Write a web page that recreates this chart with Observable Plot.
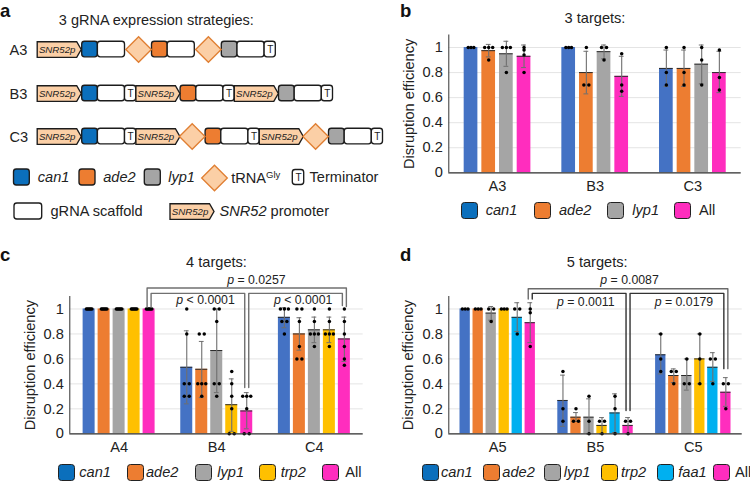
<!DOCTYPE html>
<html><head><meta charset="utf-8">
<script src="https://cdn.jsdelivr.net/npm/d3@7"></script>
<script src="https://cdn.jsdelivr.net/npm/@observablehq/plot@0.6"></script>
<style>
html,body{margin:0;padding:0;background:#fff;overflow:hidden}
body{width:750px;height:481px;position:relative;font-family:"Liberation Sans",Arial,sans-serif;color:#222}
.abs{position:absolute}
.letter{position:absolute;font-weight:bold;font-size:18.5px;line-height:21px;color:#111}
.sw{position:absolute;box-sizing:border-box;border:1.4px solid #222;border-radius:3.5px;width:17px;height:17px}
.lb{position:absolute;font-size:14.6px;line-height:17px;white-space:nowrap}
</style></head><body>
<script>
const FONT='"Liberation Sans",Arial,sans-serif';
const TICK=14.6;
const colBlueBar="#4472C4",colOrange="#ED7D31",colGray="#A5A5A5",colYellow="#FFC000",colCyan="#00B0F0",colPink="#FF2DBE",colBlueKey="#0B6FBC";
const fillOf={can1:colBlueBar,ade2:colOrange,lyp1:colGray,trp2:colYellow,faa1:colCyan,All:colPink};
const keyOf={can1:colBlueKey,ade2:colOrange,lyp1:colGray,trp2:colYellow,faa1:colCyan,All:colPink};

// ---------- panel b data
const bGroups=["A3","B3","C3"];
const bSeries=["can1","ade2","lyp1","All"];
const bMeans=[[1,0.975,0.95,0.93],[1,0.8,0.967,0.77],[0.833,0.833,0.867,0.8]];
const bHigh=[[null,1.025,1.05,1.02],[null,0.97,1.02,0.93],[0.98,0.98,1.02,0.97]];
const bLow=[[null,0.925,0.85,0.84],[null,0.63,0.91,0.61],[0.69,0.69,0.71,0.64]];
const bDots=[
 [[1,1,1],[1,1,1,0.9],[1,1,1,0.8],[1,0.98,0.94,0.8]],
 [[1,1,1],[1,0.7,0.7],[1,1,0.9],[0.95,0.7,0.65]],
 [[1,0.8,0.7],[1,0.8,0.7],[1,0.9,0.7],[0.98,0.76,0.66]]];

// ---------- panel c data
const cGroups=["A4","B4","C4"];
const cSeries=["can1","ade2","lyp1","trp2","All"];
const cMeans=[[1,1,1,1,1],[0.533,0.517,0.667,0.233,0.183],[0.933,0.8,0.833,0.833,0.76]];
const cHigh=[[null,null,null,null,null],[0.825,0.74,1,0.44,0.33],[1.01,0.93,0.935,0.935,0.935]];
const cLow=[[null,null,null,null,null],[0.24,0.29,0.33,0.02,0.04],[0.85,0.67,0.73,0.73,0.58]];
const cDots=[
 [[1,1,1,1,1,1],[1,1,1,1,1,1],[1,1,1,1,1,1],[1,1,1,1,1,1],[1,1,1,1,1,1]],
 [[1,0.8,0.4,0.4,0.3,0.3],[0.8,0.8,0.4,0.4,0.4,0.3],[1,1,0.9,0.4,0.4,0.3],[0.5,0.4,0.3,0.2,0,0],[0.3,0.3,0.3,0.2,0,0]],
 [[1,1,1,0.9,0.9,0.8],[1,1,0.9,0.7,0.6,0.6],[1,0.9,0.8,0.8,0.8,0.7],[1,0.9,0.8,0.8,0.8,0.7],[1,0.9,0.8,0.7,0.6,0.55]]];
const cBrackets=[
 {from:[0,1.013],to:[2,1.02],top:1.168,side:[-1,1],c:"#707070"},
 {from:[0,1.013],to:[1,0.37],top:1.125,side:[1,-1],c:"#707070"},
 {from:[1,0.37],to:[2,1.027],top:1.125,side:[1,-1],c:"#707070"}];
const cP=[["p = 0.0257",1.406,1.234],["p < 0.0001",0.885,1.072],["p < 0.0001",1.885,1.072]];

// ---------- panel d data
const dGroups=["A5","B5","C5"];
const dSeries=["can1","ade2","lyp1","trp2","faa1","All"];
const dMeans=[[1,1,0.967,1,0.933,0.89],[0.267,0.133,0.133,0.067,0.167,0.067],[0.633,0.467,0.467,0.6,0.533,0.333]];
const dHigh=[[null,null,1.02,null,1.05,1.05],[0.47,0.17,0.28,0.13,0.32,0.13],[0.8,0.52,0.6,0.8,0.65,0.45]];
const dLow=[[null,null,0.91,null,0.82,0.73],[0.06,0.1,0,0,0.01,0],[0.48,0.41,0.35,0.4,0.42,0.22]];
const dDots=[
 [[1,1,1],[1,1,1],[1,1,0.9],[1,1,1],[1,1,0.8],[1,0.97,0.7]],
 [[0.5,0.2,0.1],[0.2,0.1,0.1],[0.3,0.1,0],[0.1,0.1,0],[0.3,0.2,0],[0.1,0.1,0]],
 [[0.8,0.6,0.5],[0.5,0.5,0.4],[0.6,0.4,0.4],[0.8,0.6,0.4],[0.6,0.6,0.4],[0.4,0.4,0.2]]];
const dBrackets=[
 {from:[0,1.08],to:[2,0.522],top:1.162,side:[-1,1],c:"#6a6a6a"},
 {from:[0,1.08],to:[1,0.186],top:1.125,side:[1,-1],c:"#333"},
 {from:[1,0.186],to:[2,0.522],top:1.125,side:[1,-1],c:"#333"}];
const dP=[["p = 0.0087",1.348,1.234],["p = 0.0011",0.9,1.056],["p = 0.0179",1.904,1.056]];

const yTicks=[0,0.2,0.4,0.6,0.8,1];
const GSTEP=97.67;

function italicize(svg){
  d3.select(svg).selectAll("text").each(function(){
    const t=this.textContent, el=d3.select(this);
    let m;
    if((m=t.match(/^p ([<=] .*)$/))){
      el.text(null);el.append("tspan").attr("font-style","italic").text("p");el.append("tspan").text(" "+m[1]);
    } else if(t==="tRNAGly"){
      el.text(null);el.append("tspan").text("tRNA");el.append("tspan").attr("dy",-5).attr("font-size",9.5).text("Gly");
    } else if(t==="SNR52 promoter"){
      el.text(null);el.append("tspan").attr("font-style","italic").text("SNR52");el.append("tspan").text(" promoter");
    }
  });
}

function barPanel({groups,series,means,high,low,dots,left,top,width,height,mL,mR,mT,mB,xDom,barW,barStep,title,titleDy,titleDx=0,brackets=[],pvals=[],labelOffset}){
  const rows=[],pts=[];
  groups.forEach((g,gi)=>series.forEach((s,si)=>{
    const cx=gi+(si-(series.length-1)/2)*barStep/GSTEP, hw=barW/2/GSTEP;
    rows.push({s,cx,x1:cx-hw,x2:cx+hw,capL:cx-2.4/GSTEP,capR:cx+2.4/GSTEP,mean:means[gi][si],hi:high[gi][si],lo:low[gi][si]});
    const vals=dots[gi][si], uniform=vals.every(v=>v===vals[0]);
    d3.rollups(vals,v=>v.length,v=>v).forEach(([v,n])=>{
      const sp=uniform?5.6/(n-1):(n===2?5:n===3?4:3);
      for(let k=0;k<n;k++) pts.push({x:cx+(k-(n-1)/2)*sp/GSTEP,y:v});
    });
  }));
  const errs=rows.filter(r=>r.hi!=null);
  const lastX=series.length-1;
  const bx=g=>g+(lastX/2)*barStep/GSTEP;
  const off=2/GSTEP;
  const bLines=brackets.flatMap((b,k)=>{
    const xa=bx(b.from[0])+b.side[0]*off, xb=bx(b.to[0])+b.side[1]*off;
    return [
      {k,c:b.c,x:xa,y:b.from[1]},{k,c:b.c,x:xa,y:b.top},{k,c:b.c,x:xb,y:b.top},{k,c:b.c,x:xb,y:b.to[1]}
    ];
  });
  const plot=Plot.plot({
    width,height,marginLeft:mL,marginRight:mR,marginTop:mT,marginBottom:mB,
    style:{fontFamily:FONT,fontSize:TICK+"px",color:"#222",background:"transparent",overflow:"visible"},
    x:{domain:xDom,axis:null},
    y:{domain:[0,1.1],axis:null},
    marks:[
      Plot.gridY({ticks:yTicks,stroke:"#e4e4e4",strokeOpacity:1,strokeWidth:1}),
      Plot.rectY(rows,{x1:"x1",x2:"x2",y1:0,y2:"mean",fill:d=>fillOf[d.s],insetLeft:0,insetRight:0}),
      Plot.ruleY(rows.filter(r=>r.mean<1),{y:"mean",x1:"x1",x2:"x2",stroke:"#2a2a2a",strokeWidth:1}),
      Plot.ruleX(errs,{x:"cx",y1:"lo",y2:"hi",stroke:"#6f6f6f",strokeWidth:1.1}),
      Plot.ruleY(errs,{y:"hi",x1:"capL",x2:"capR",stroke:"#6f6f6f",strokeWidth:1}),
      Plot.ruleY(errs,{y:"lo",x1:"capL",x2:"capR",stroke:"#6f6f6f",strokeWidth:1}),
      Plot.dot(pts,{x:"x",y:"y",r:1.75,fill:"#000",stroke:"none"}),
      Plot.ruleX([xDom[0]],{y1:0,y2:1.1,stroke:"#333",strokeWidth:1}),
      Plot.ruleY([0],{stroke:"#333",strokeWidth:1.2}),
      Plot.line(bLines,{x:"x",y:"y",z:"k",stroke:"c",strokeWidth:1.4,curve:"linear"}),
      Plot.text(pvals,{x:d=>d[1],y:d=>d[2],text:d=>d[0],fontSize:12.3,fill:"#222"}),
      Plot.axisY({ticks:yTicks,tickFormat:d=>String(d),tickSize:0,tickPadding:6,label:"Disruption efficiency",labelAnchor:"center",labelArrow:"none",labelOffset,fontSize:TICK}),
      Plot.axisX({ticks:[0,1,2],tickFormat:i=>groups[i],tickSize:0,tickPadding:8,label:null,fontSize:TICK}),
      Plot.text([title],{frameAnchor:"top",dy:titleDy,dx:titleDx,fontSize:TICK})
    ]
  });
  italicize(plot);
  plot.classList.add("abs");
  plot.style.left=left+"px";plot.style.top=top+"px";
  document.body.appendChild(plot);
}

barPanel({groups:bGroups,series:bSeries,means:bMeans,high:bHigh,low:bLow,dots:bDots,left:395,top:0,width:355,height:230,mL:53.3,mR:9.3,mT:34.5,mB:57.7,xDom:[-0.499,2.495],barW:13.7,barStep:17.67,title:"3 targets:",titleDy:-22.5,labelOffset:45});
barPanel({groups:cGroups,series:cSeries,means:cMeans,high:cHigh,low:cLow,dots:cDots,left:0,top:240,width:375,height:241,mL:69.3,mR:12.3,mT:56,mB:47.7,xDom:[-0.505,2.5],barW:12,barStep:15,title:"4 targets:",titleDy:-39.5,brackets:cBrackets,pvals:cP,labelOffset:45});
barPanel({groups:dGroups,series:dSeries,means:dMeans,high:dHigh,low:dLow,dots:dDots,left:375,top:240,width:375,height:241,mL:73.3,mR:8.3,mT:56,mB:47.7,xDom:[-0.5,2.5],barW:10.3,barStep:13,title:"5 targets:",titleDy:-39.5,titleDx:1.7,brackets:dBrackets,pvals:dP,labelOffset:46});

// ---------- panel a: construct schematics
const rowNames=["A3","B3","C3"];
const rowCentres=[49,93,136];
const seqA3=["P","can1","S","D","ade2","S","D","lyp1","S","T"];
const seqB3=["P","can1","S","T","P","ade2","S","T","P","lyp1","S","T"];
const seqC3=["P","can1","S","T","P","D","ade2","S","T","P","D","lyp1","S","T"];
const partWidth={P:44,S:27.1,T:11.2,D:25.2,can1:15.7,ade2:15.7,lyp1:15.7};
const startX=36.7, boxH=15.6;
const geneFill={can1:colBlueKey,ade2:colOrange,lyp1:colGray};
const peach="#FBCFA6", dOrange="#E07F33", ink="#1c1c1c";

const boxes=[],promoters=[],diamonds=[],terms=[];
[seqA3,seqB3,seqC3].forEach((seq,r)=>{
  let x=startX;
  seq.forEach((p,i)=>{
    const w=(p==="P"&&i>0)?43.4:partWidth[p], prev=seq[i-1];
    if(prev==="P"&&p!=="D") x+=1;
    if(p==="D"&&prev==="S") x+=1;
    if(prev==="D") x+=0.8;
    const y=rowCentres[r];
    if(p==="P") promoters.push({x:x+w/2,y});
    else if(p==="D") diamonds.push({x:x+w/2,y});
    else if(p==="T") {boxes.push({x1:x,x2:x+w,y1:y-boxH/2,y2:y+boxH/2,f:"#fff"});terms.push({x:x+w/2,y});}
    else if(p==="S") boxes.push({x1:x,x2:x+w,y1:y-boxH/2,y2:y+boxH/2,f:"#fff"});
    else boxes.push({x1:x,x2:x+w,y1:y-boxH/2,y2:y+boxH/2,f:geneFill[p]});
    x+=w;
  });
});
// legend parts in panel a
const key1=177, key2=211;
const aLegendBoxes=[
 {x1:13.5,x2:29.3,y1:key1-8,y2:key1+8,f:colBlueKey},
 {x1:79,x2:95,y1:key1-8,y2:key1+8,f:colOrange},
 {x1:144.3,x2:160.3,y1:key1-8,y2:key1+8,f:colGray},
 {x1:292.3,x2:303.7,y1:key1-7.5,y2:key1+7.5,f:"#fff"},
 {x1:14,x2:41.7,y1:key2-8,y2:key2+8,f:"#fff"}];
diamonds.push({x:214,y:key1+0.5});
promoters.push({x:191.5,y:key2});
terms.push({x:298,y:key1});
const aItalicLabels=[["can1",37.3,key1],["ade2",102.7,key1],["lyp1",167.7,key1]];
const aPlainLabels=[["tRNAGly",230.7,key1+1],["Terminator",309,key1],["gRNA scaffold",50,key2],["SNR52 promoter",219,key2]];

const promoterShape={draw(ctx){ // 44 x 15.6 arrow box, tip on the right
  ctx.moveTo(-22,-7.8);ctx.lineTo(17.5,-7.8);ctx.lineTo(22,0);ctx.lineTo(17.5,7.8);ctx.lineTo(-22,7.8);ctx.closePath();}};
const diamondShape={draw(ctx){ctx.moveTo(0,-12.8);ctx.lineTo(12.8,0);ctx.lineTo(0,12.8);ctx.lineTo(-12.8,0);ctx.closePath();}};

const aPlot=Plot.plot({
  width:395,height:230,margin:0,
  style:{fontFamily:FONT,fontSize:TICK+"px",color:"#222",background:"transparent",overflow:"visible"},
  x:{domain:[0,395],range:[0,395],axis:null},
  y:{domain:[0,230],range:[0,230],axis:null},
  marks:[
    Plot.rect(boxes.concat(aLegendBoxes),{x1:"x1",x2:"x2",y1:"y1",y2:"y2",fill:"f",stroke:ink,strokeWidth:1.35,rx:2.8}),
    Plot.dot(promoters,{x:"x",y:"y",symbol:promoterShape,r:5,fill:peach,stroke:ink,strokeWidth:1.35}),
    Plot.dot(diamonds,{x:"x",y:"y",symbol:diamondShape,r:5,fill:peach,stroke:dOrange,strokeWidth:1.35}),
    Plot.text(promoters,{x:"x",y:"y",dx:-2,text:()=>"SNR52p",fontStyle:"italic",fontSize:9.7}),
    Plot.text(terms,{x:"x",y:"y",text:()=>"T",fontSize:10}),
    Plot.text(rowNames,{x:9,y:(d,i)=>rowCentres[i]+1,text:d=>d,textAnchor:"start",fontSize:TICK}),
    Plot.text(aItalicLabels,{x:d=>d[1],y:d=>d[2],text:d=>d[0],fontStyle:"italic",textAnchor:"start",fontSize:TICK}),
    Plot.text(aPlainLabels,{x:d=>d[1],y:d=>d[2],text:d=>d[0],textAnchor:"start",fontSize:TICK}),
    Plot.text(["3 gRNA expression strategies:"],{x:58.3,y:20,textAnchor:"start",fontSize:14.5})
  ]
});
italicize(aPlot);
aPlot.classList.add("abs");aPlot.style.left="0px";aPlot.style.top="0px";
document.body.appendChild(aPlot);

// ---------- legends under panels b, c, d
const bKeyX=[461,533.5,607,674], bKeyT=[485.7,559,632.3,699], bKeyY=201.7;
const cKeyX=[57.7,126.7,195,259.3,322.3], cKeyT=[79.3,146,217.3,280.7,345.3], cKeyY=463.7;
const dKeyX=[422,482.7,544,600.7,656.7,713.3], dKeyT=[441,502.3,563.7,621,678.3,735], dKeyY=463.7;
function legend(series,xs,ts,y){
  series.forEach((s,i)=>{
    const sw=document.createElement("div");sw.className="sw";
    sw.style.cssText=`left:${xs[i]}px;top:${y}px;background:${keyOf[s]}`;
    document.body.appendChild(sw);
    const lb=document.createElement("div");lb.className="lb";lb.textContent=s;
    lb.style.cssText=`left:${ts[i]}px;top:${y}px;font-style:${s==="All"?"normal":"italic"}`;
    document.body.appendChild(lb);
  });
}
legend(bSeries,bKeyX,bKeyT,bKeyY);
legend(cSeries,cKeyX,cKeyT,cKeyY);
legend(dSeries,dKeyX,dKeyT,dKeyY);

// ---------- panel letters
[["a",0,0],["b",400,0],["c",0,244],["d",400,244]].forEach(([t,x,y])=>{
  const e=document.createElement("div");e.className="letter";e.textContent=t;
  e.style.left=x+"px";e.style.top=y+"px";document.body.appendChild(e);
});
</script>
</body></html>
